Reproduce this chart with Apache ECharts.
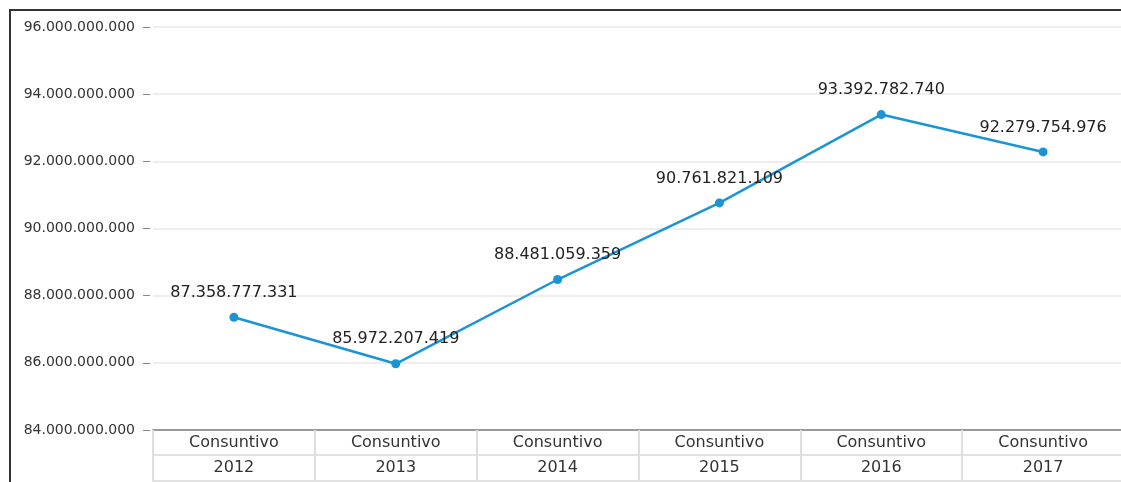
<!DOCTYPE html>
<html>
<head>
<meta charset="utf-8">
<script src="https://cdn.jsdelivr.net/npm/echarts@6/dist/echarts.min.js"></script>
<style>
html,body{margin:0;padding:0;background:#fff;}
#c{width:1121px;height:482px;}
</style>
</head>
<body>
<div id="c"></div>
<script>
const years = ['2012','2013','2014','2015','2016','2017'];
const rowLabels = ['Consuntivo','Consuntivo','Consuntivo','Consuntivo','Consuntivo','Consuntivo'];
const consuntivo = [87358777331, 85972207419, 88481059359, 90761821109, 93392782740, 92279754976];
const yMin = 84000000000, yMax = 96000000000, yStep = 2000000000;

function fmt(v){ return Math.round(v).toString().replace(/\B(?=(\d{3})+(?!\d))/g,'.'); }

const FONT = '"DejaVu Sans", sans-serif';
const chart = echarts.init(document.getElementById('c'), null, {renderer:'canvas'});
chart.setOption({
  animation:false,
  backgroundColor:'#fff',
  grid:{left:153, top:27, width:971, height:403, containLabel:false, outerBoundsMode:'none'},
  xAxis:[
    {type:'category', data:rowLabels, position:'bottom', boundaryGap:true,
     axisLine:{show:true, lineStyle:{color:'#9a9a9a', width:2}},
     axisTick:{show:true, interval:0, length:51, lineStyle:{color:'#dedede', width:2}},
     axisLabel:{interval:0, margin:5, color:'#333', fontFamily:FONT, fontSize:16},
     splitLine:{show:false}},
    {type:'category', data:years, position:'bottom', offset:25, boundaryGap:true,
     axisLine:{show:true, lineStyle:{color:'#e2e2e2', width:2}},
     axisTick:{show:false},
     axisLabel:{interval:0, margin:5, color:'#333', fontFamily:FONT, fontSize:16}},
    {type:'category', data:years, position:'bottom', offset:51, boundaryGap:true,
     axisLine:{show:true, lineStyle:{color:'#e2e2e2', width:2}},
     axisTick:{show:false}, axisLabel:{show:false}}
  ],
  yAxis:{type:'value', min:yMin, max:yMax, interval:yStep, offset:3,
    axisLine:{show:false},
    axisTick:{show:true, length:7, lineStyle:{color:'#888', width:1}},
    axisLabel:{margin:15, color:'#333', fontFamily:FONT, fontSize:14, formatter:fmt},
    splitLine:{show:true, lineStyle:{color:'#e8e8e8', width:1.5}}},
  series:[{
    type:'line', data:consuntivo, xAxisIndex:0,
    symbol:'circle', symbolSize:9,
    lineStyle:{color:'#1a94d4', width:2.5},
    itemStyle:{color:'#1a94d4'},
    label:{show:true, position:'top', distance:12, color:'#222', fontFamily:FONT, fontSize:16, formatter:p=>fmt(p.value)}
  }],
  graphic:[{type:'polyline', silent:true, shape:{points:[[10,482],[10,10],[1121,10]]}, style:{stroke:'#333', lineWidth:2, fill:null}}]
});
</script>
</body>
</html>
